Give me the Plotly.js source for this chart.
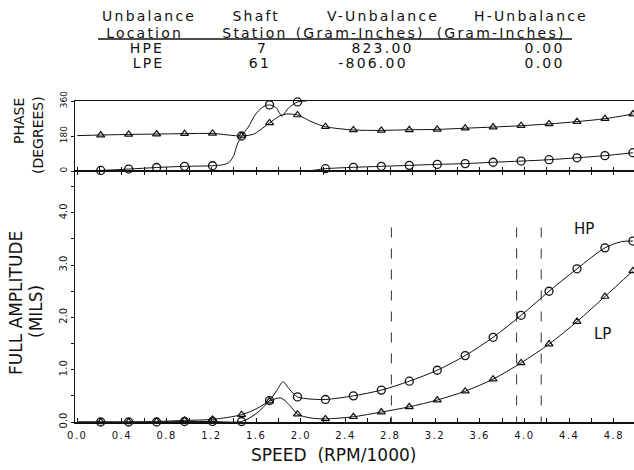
<!DOCTYPE html>
<html>
<head>
<meta charset="utf-8">
<script src="https://cdn.plot.ly/plotly-3.0.1.min.js"></script>
<style>
html,body{margin:0;padding:0;background:#fff;}
#chart{width:634px;height:470px;}
</style>
</head>
<body>
<div id="chart"></div>
<script>
// ---------------- DATA ----------------
const speed = [0.21,0.46,0.71,0.96,1.21,1.47,1.72,1.97,2.22,2.47,2.72,2.97,3.22,3.47,3.72,3.97,4.22,4.47,4.72,4.97];

// Full amplitude (mils) at the plotted points
const hpAmp = [0.00,0.00,0.00,0.01,0.01,0.01,0.41,0.48,0.43,0.50,0.61,0.78,0.99,1.27,1.62,2.04,2.50,2.93,3.33,3.46];
const lpAmp = [0.00,0.00,0.01,0.03,0.05,0.14,0.40,0.15,0.06,0.10,0.19,0.29,0.42,0.59,0.82,1.13,1.49,1.92,2.40,2.89];

// Phase (degrees) at the plotted points
const hpPhase = [3,10,18,24,27,180,340,355,12,19,24,29,34,38,45,51,58,68,79,94];
const lpPhase = [185,188,190,192,193,180,247,288,228,211,209,212,214,220,226,233,242,254,269,293];

// Traced curves (including peaks between points)
const hpAmpCurveX = [0,0.21,0.46,0.71,0.96,1.21,1.47,1.60,1.72,1.79,1.84,1.90,1.97,2.08,2.22,2.47,2.72,2.97,3.22,3.47,3.72,3.97,4.22,4.47,4.72,4.87,4.97];
const hpAmpCurveY = [0,0.00,0.00,0.00,0.01,0.01,0.01,0.16,0.41,0.62,0.77,0.62,0.48,0.44,0.43,0.50,0.61,0.78,0.99,1.27,1.62,2.04,2.50,2.93,3.33,3.45,3.46];
const lpAmpCurveX = [0,0.21,0.46,0.71,0.96,1.21,1.47,1.60,1.72,1.82,1.90,1.97,2.08,2.22,2.47,2.72,2.97,3.22,3.47,3.72,3.97,4.22,4.47,4.72,4.97];
const lpAmpCurveY = [0,0.00,0.00,0.01,0.03,0.05,0.14,0.25,0.40,0.46,0.32,0.15,0.08,0.06,0.10,0.19,0.29,0.42,0.59,0.82,1.13,1.49,1.92,2.40,2.89];

const hpPhaseCurveX = [0,0.21,0.46,0.71,0.96,1.21,1.31,1.36,1.40,1.43,1.47,1.53,1.59,1.66,1.72,1.78,1.83,1.89,1.97,2.05,null,2.07,2.14,2.22,2.47,2.72,2.97,3.22,3.47,3.72,3.97,4.22,4.47,4.72,4.97];
const hpPhaseCurveY = [0,3,10,18,24,27,33,45,80,134,180,226,288,329,340,325,283,324,355,360,null,0,6,12,19,24,29,34,38,45,51,58,68,79,94];
const lpPhaseCurveX = [0,0.21,0.46,0.71,0.96,1.21,1.47,1.58,1.66,1.72,1.81,1.87,1.97,2.10,2.22,2.47,2.72,2.97,3.22,3.47,3.72,3.97,4.22,4.47,4.72,4.97];
const lpPhaseCurveY = [182,185,188,190,192,193,180,190,221,247,283,293,288,252,228,211,209,212,214,220,226,233,242,254,269,293];

// Dashed reference speeds
const dashSpeeds = [2.81,3.93,4.15];
const dashTop = 3.72;

// Table texts
const tableHeader1 = ["Unbalance","Shaft","V-Unbalance","H-Unbalance"];
const tableHeader2 = ["Location","Station","(Gram-Inches)","(Gram-Inches)"];
const rowHPE = ["HPE","7","823.00","0.00"];
const rowLPE = ["LPE","61","-806.00","0.00"];

// Tick labels
const ampTicks = [0,1,2,3,4];
const ampTickText = ["0.0","1.0","2.0","3.0","4.0"];
const phaseTicks = [0,180,360];
const phaseTickText = ["0","180","360"];

// ---------------- LAYOUT HELPERS ----------------
const L = 75, T = 101, W = 559, H = 321;
const px = v => (v - L) / W;
const py = v => (T + H - v) / H;
const FONT = "DejaVu Sans, sans-serif";
const ampDomTop = (T + H - 171) / H;

const lineStyle = {color:'#111', width:1};
const traces = [
  {x:hpAmpCurveX, y:hpAmpCurveY, xaxis:'x', yaxis:'y', mode:'lines', line:Object.assign({shape:'spline', smoothing:0.8}, lineStyle), hoverinfo:'skip'},
  {x:lpAmpCurveX, y:lpAmpCurveY, xaxis:'x', yaxis:'y', mode:'lines', line:Object.assign({shape:'spline', smoothing:0.8}, lineStyle), hoverinfo:'skip'},
  {x:speed, y:hpAmp, xaxis:'x', yaxis:'y', mode:'markers', cliponaxis:false, marker:{symbol:'circle-open', size:8, color:'#111', line:{width:1.3, color:'#111'}}},
  {x:speed, y:lpAmp, xaxis:'x', yaxis:'y', mode:'markers', cliponaxis:false, marker:{symbol:'triangle-up-open', size:7, color:'#111', line:{width:1.2, color:'#111'}}},
  {x:hpPhaseCurveX, y:hpPhaseCurveY, xaxis:'x2', yaxis:'y2', mode:'lines', connectgaps:false, cliponaxis:false, line:Object.assign({shape:'spline', smoothing:0.8}, lineStyle), hoverinfo:'skip'},
  {x:lpPhaseCurveX, y:lpPhaseCurveY, xaxis:'x2', yaxis:'y2', mode:'lines', cliponaxis:false, line:Object.assign({shape:'spline', smoothing:0.8}, lineStyle), hoverinfo:'skip'},
  {x:speed, y:hpPhase, xaxis:'x2', yaxis:'y2', mode:'markers', cliponaxis:false, marker:{symbol:'circle-open', size:8, color:'#111', line:{width:1.3, color:'#111'}}},
  {x:speed, y:lpPhase, xaxis:'x2', yaxis:'y2', mode:'markers', cliponaxis:false, marker:{symbol:'triangle-up-open', size:7, color:'#111', line:{width:1.2, color:'#111'}}}
];

// table annotations
const annotations = [];
const rows = [tableHeader1, tableHeader2, rowHPE, rowLPE];
const rowY = [16, 33, 48, 63];
const colX = [[149,256,383,531],[144,255,360,501],[147,262,383,544],[148,260,373,544]];
rows.forEach((r, i) => r.forEach((t, j) => {
  annotations.push({text:t, xref:'paper', yref:'paper', x:px(colX[i][j]), y:py(rowY[i]), xanchor:'center', yanchor:'middle', showarrow:false, font:{family:FONT, size:14, color:'#111'}});
}));
const nTable = annotations.length;

const ann = (o) => Object.assign({xref:'paper', yref:'paper', xanchor:'center', yanchor:'middle', showarrow:false}, o);
annotations.push(
  ann({text:'HP', xref:'x', yref:'y', x:4.53, y:3.70, font:{family:FONT, size:15, color:'#111'}}),
  ann({text:'LP', xref:'x', yref:'y', x:4.70, y:1.69, font:{family:FONT, size:15, color:'#111'}}),
  ann({text:'SPEED  (RPM/1000)', x:px(333), y:py(455), font:{family:FONT, size:17, color:'#111'}}),
  ann({text:'FULL AMPLITUDE', x:px(16), y:py(303), textangle:-90, font:{family:FONT, size:17, color:'#111'}}),
  ann({text:'(MILS)', x:px(36), y:py(312), textangle:-90, font:{family:FONT, size:17, color:'#111'}}),
  ann({text:'PHASE', x:px(19), y:py(121), textangle:-90, font:{family:FONT, size:14, color:'#111'}}),
  ann({text:'(DEGREES)', x:px(38), y:py(135), textangle:-90, font:{family:FONT, size:14, color:'#111'}})
);

const shapes = [
  {type:'line', xref:'paper', yref:'paper', x0:px(98), x1:px(572), y0:py(39), y1:py(39), line:{color:'#111', width:1.3}}
];
dashSpeeds.forEach(s => shapes.push({type:'line', xref:'x', yref:'y', x0:s, x1:s, y0:dashTop, y1:0, line:{color:'#333', width:1, dash:'10px,11px'}}));

const layout = {
  width:634, height:470,
  margin:{l:L, r:0, t:T, b:470 - T - H},
  paper_bgcolor:'#fff', plot_bgcolor:'#fff',
  showlegend:false,
  font:{family:FONT, color:'#111'},
  xaxis:{domain:[0,1], anchor:'y', range:[-0.02,4.98], showgrid:false, zeroline:false,
         showline:true, linecolor:'#111', linewidth:1.5, mirror:'ticks',
         ticks:'inside', ticklen:4, tickcolor:'#111', tickwidth:1, dtick:0.4, tick0:0, tickformat:'.1f',
         minor:{dtick:0.2, tick0:0, ticks:'inside', ticklen:4, tickcolor:'#111'},
         tickfont:{family:FONT, size:10, color:'#111'}, ticklabelstandoff:3},
  yaxis:{domain:[0, ampDomTop], anchor:'x', range:[0,4.8], showgrid:false, zeroline:false,
         showline:true, linecolor:'#111', linewidth:1.5,
         ticks:'outside', ticklen:3, tickcolor:'#111', tickvals:ampTicks, ticktext:ampTickText, tickangle:-90,
         minor:{dtick:0.5, tick0:0, ticks:'outside', ticklen:3, tickcolor:'#111'},
         tickfont:{family:FONT, size:10, color:'#111'}},
  xaxis2:{domain:[0,1], anchor:'y2', matches:'x', range:[-0.02,4.98], showgrid:false, zeroline:false,
          showline:true, linecolor:'#111', linewidth:1.3, mirror:true,
          ticks:'inside', ticklen:4, tickcolor:'#111', dtick:0.2, tick0:0, showticklabels:false},
  yaxis2:{domain:[ampDomTop, 1], anchor:'x2', range:[0,360], showgrid:false, zeroline:false,
          showline:true, linecolor:'#111', linewidth:1.5,
          ticks:'outside', ticklen:3, tickcolor:'#111', tickvals:phaseTicks, ticktext:phaseTickText, tickangle:-90,
          tickfont:{family:FONT, size:9, color:'#111'}},
  annotations:annotations,
  shapes:shapes
};

Plotly.newPlot('chart', traces, layout, {staticPlot:true, displayModeBar:false}).then(() => {
  document.querySelectorAll('.annotation').forEach(g => {
    const i = parseInt(g.getAttribute('data-index'), 10);
    if (i < nTable) g.querySelectorAll('text').forEach(t => t.style.letterSpacing = '2.2px');
  });
  document.querySelectorAll('.xtick text').forEach(t => t.style.letterSpacing = '1.5px');
});
</script>
</body>
</html>
